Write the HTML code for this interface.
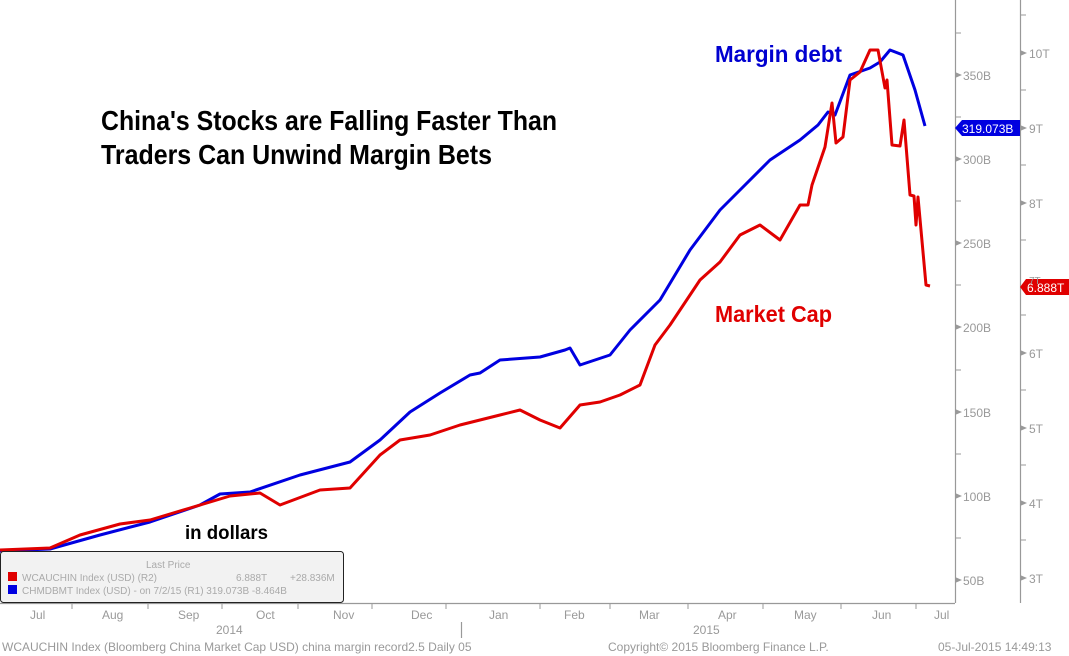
<!DOCTYPE html><html><head><style>body{margin:0;background:#fff}svg{display:block}</style></head><body>
<svg width="1069" height="656" xmlns="http://www.w3.org/2000/svg" font-family="Liberation Sans, DejaVu Sans, sans-serif">
<rect width="1069" height="656" fill="#fff"/>
<g stroke="#999" stroke-width="1.2" fill="none">
<line x1="0" y1="603.5" x2="955" y2="603.5"/>
<line x1="955.5" y1="0" x2="955.5" y2="603"/>
<line x1="1020.5" y1="0" x2="1020.5" y2="603"/>
<line x1="461.5" y1="622" x2="461.5" y2="638"/>
</g>
<g stroke="#999" stroke-width="1">
<line x1="72" y1="603" x2="72" y2="609"/><line x1="148" y1="603" x2="148" y2="609"/><line x1="222" y1="603" x2="222" y2="609"/><line x1="298" y1="603" x2="298" y2="609"/><line x1="372" y1="603" x2="372" y2="609"/><line x1="446" y1="603" x2="446" y2="609"/><line x1="540" y1="603" x2="540" y2="609"/><line x1="610" y1="603" x2="610" y2="609"/><line x1="688" y1="603" x2="688" y2="609"/><line x1="763" y1="603" x2="763" y2="609"/><line x1="841" y1="603" x2="841" y2="609"/><line x1="916" y1="603" x2="916" y2="609"/>
<line x1="955" y1="33" x2="961" y2="33"/><line x1="955" y1="117" x2="961" y2="117"/><line x1="955" y1="201" x2="961" y2="201"/><line x1="955" y1="285" x2="961" y2="285"/><line x1="955" y1="370" x2="961" y2="370"/><line x1="955" y1="454" x2="961" y2="454"/><line x1="955" y1="538" x2="961" y2="538"/>
<line x1="1020" y1="15" x2="1026" y2="15"/><line x1="1020" y1="90" x2="1026" y2="90"/><line x1="1020" y1="165" x2="1026" y2="165"/><line x1="1020" y1="240" x2="1026" y2="240"/><line x1="1020" y1="315" x2="1026" y2="315"/><line x1="1020" y1="390" x2="1026" y2="390"/><line x1="1020" y1="465" x2="1026" y2="465"/><line x1="1020" y1="540" x2="1026" y2="540"/>
</g>
<g fill="#999">
<polygon points="955,72 962,75 955,78"/><polygon points="955,156 962,159 955,162"/><polygon points="955,240 962,243 955,246"/><polygon points="955,324 962,327 955,330"/><polygon points="955,409 962,412 955,415"/><polygon points="955,493 962,496 955,499"/><polygon points="955,577 962,580 955,583"/>
<polygon points="1020,50 1027,53 1020,56"/><polygon points="1020,125 1027,128 1020,131"/><polygon points="1020,200 1027,203 1020,206"/><polygon points="1020,350 1027,353 1020,356"/><polygon points="1020,425 1027,428 1020,431"/><polygon points="1020,500 1027,503 1020,506"/><polygon points="1020,575 1027,578 1020,581"/>
</g>
<g fill="#999" font-size="12">
<text x="963" y="80">350B</text><text x="963" y="164">300B</text><text x="963" y="248">250B</text><text x="963" y="332">200B</text><text x="963" y="417">150B</text><text x="963" y="501">100B</text><text x="963" y="585">50B</text>
<text x="1029" y="58">10T</text><text x="1029" y="133">9T</text><text x="1029" y="208">8T</text><text x="1029" y="358">6T</text><text x="1029" y="433">5T</text><text x="1029" y="508">4T</text><text x="1029" y="583">3T</text>
<text x="30" y="619">Jul</text><text x="102" y="619">Aug</text><text x="178" y="619">Sep</text><text x="256" y="619">Oct</text><text x="333" y="619">Nov</text><text x="411" y="619">Dec</text><text x="489" y="619">Jan</text><text x="564" y="619">Feb</text><text x="639" y="619">Mar</text><text x="718" y="619">Apr</text><text x="794" y="619">May</text><text x="872" y="619">Jun</text><text x="934" y="619">Jul</text>
<text x="216" y="634">2014</text><text x="693" y="634">2015</text>
<text x="2" y="651">WCAUCHIN Index (Bloomberg China Market Cap USD) china margin record2.5  Daily 05</text>
<text x="608" y="651">Copyright© 2015 Bloomberg Finance L.P.</text>
<text x="938" y="651">05-Jul-2015 14:49:13</text>
</g>
<polyline fill="none" stroke="#0000e0" stroke-width="3" stroke-linejoin="round" points="0,551 50,549 100,535 150,522 200,505 220,494 250,492 300,475 350,462 380,440 410,412 440,393 470,375 480,373 500,360 540,357 565,350 570,348 580,365 610,355 630,330 660,300 690,250 720,210 740,190 770,160 800,140 818,125 828,112 835,115 850,75 870,68 880,62 890,50 903,55 915,90 925,126"/>
<polyline fill="none" stroke="#e00000" stroke-width="3" stroke-linejoin="round" points="0,550 50,548 80,535 120,524 150,520 190,508 230,496 260,493 280,505 320,490 350,488 380,455 400,440 430,435 460,425 500,415 520,410 540,420 560,428 580,405 600,402 620,395 640,385 655,345 670,325 700,280 720,262 740,235 760,225 780,240 800,205 808,205 812,185 825,147 832,103 836,143 843,137 850,80 860,72 870,50 878,50 885,88 887,80 892,145 900,146 904,120 910,195 914,196 916,225 918,197 926,285 930,286"/>
<polygon points="955,128 962,120 1020,120 1020,136 962,136" fill="#0000e0"/>
<text x="962" y="133" fill="#fff" font-size="12">319.073B</text>
<polygon points="1020,287 1026,279 1069,279 1069,295 1026,295" fill="#e00000"/>
<text x="1027" y="292" fill="#fff" font-size="12">6.888T</text>
<text x="1029" y="284" fill="#999" font-size="10">7T</text>
<text x="101" y="130" font-size="28" font-weight="bold" fill="#000" textLength="456" lengthAdjust="spacingAndGlyphs">China's Stocks are Falling Faster Than</text>
<text x="101" y="164" font-size="28" font-weight="bold" fill="#000" textLength="391" lengthAdjust="spacingAndGlyphs">Traders Can Unwind Margin Bets</text>
<text x="715" y="62" font-size="23" font-weight="bold" fill="#0000d0" textLength="127" lengthAdjust="spacingAndGlyphs">Margin debt</text>
<text x="715" y="322" font-size="23" font-weight="bold" fill="#e00000" textLength="117" lengthAdjust="spacingAndGlyphs">Market Cap</text>
<text x="185" y="539" font-size="19" font-weight="bold" fill="#000" textLength="83" lengthAdjust="spacingAndGlyphs">in dollars</text>
<rect x="0.5" y="551.5" width="343" height="51" rx="3" fill="#f2f2f2" stroke="#222" stroke-width="1"/>
<g fill="#aaa" font-size="10">
<text x="146" y="568">Last Price</text>
<text x="22" y="581">WCAUCHIN Index (USD)  (R2)</text><text x="236" y="581">6.888T</text><text x="290" y="581">+28.836M</text>
<text x="22" y="594">CHMDBMT Index (USD) -  on 7/2/15  (R1) 319.073B  -8.464B</text>
</g>
<rect x="8" y="572" width="9" height="9" fill="#e00000"/>
<rect x="8" y="585" width="9" height="9" fill="#0000e0"/>
</svg></body></html>
